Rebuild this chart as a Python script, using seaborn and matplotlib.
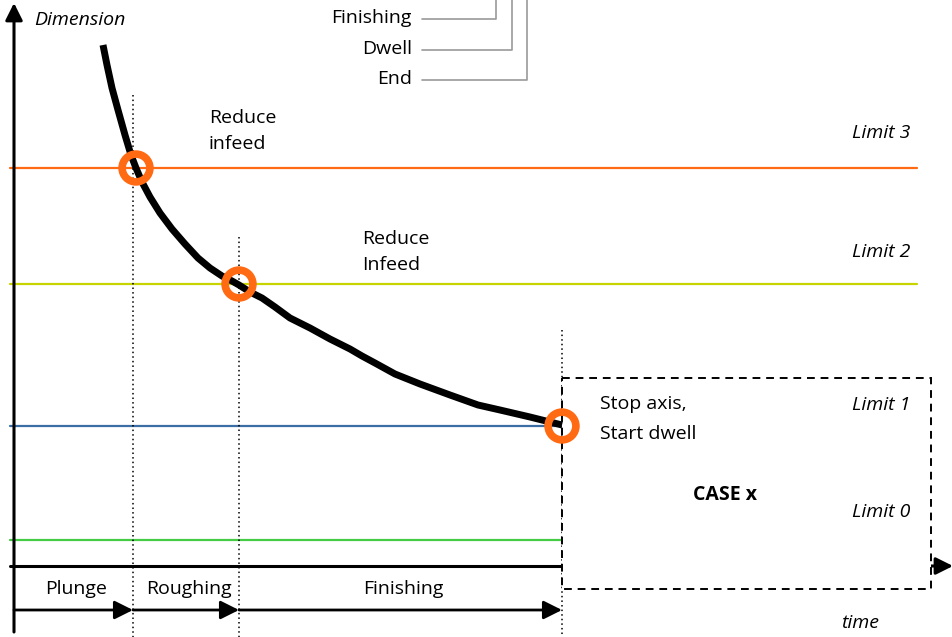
import matplotlib
matplotlib.use("Agg")
import matplotlib.pyplot as plt
import seaborn as sns
import pandas as pd
from matplotlib.patches import Rectangle

# Schematic drawn on a pixel-like grid (x right, y down)
curve_x = [103, 107, 112, 118, 125, 131, 136, 142, 150, 160, 172, 185, 198, 210,
           222, 232, 239, 250, 262, 275, 290, 310, 330, 350, 362, 375, 395, 420,
           450, 478, 500, 530, 562]
curve_y = [45, 65, 88, 110, 135, 155, 168, 182, 197, 213, 229, 244, 258, 268,
           276, 281, 285, 292, 298, 307, 318, 328, 339, 349, 356, 363, 374, 384,
           395, 405, 410, 417, 425]

limit_names = ['Limit 3', 'Limit 2', 'Limit 1', 'Limit 0']
limit_levels = [168, 284, 426, 540]
limit_ends = [917, 917, 562, 562]
limit_colors = ['#ff6a13', '#c8d400', '#3a6ea5', '#44cc44']
limit_label_y = [133, 252, 405, 512]

switch_x = [136, 239, 562]
switch_y = [168, 284, 426]

phase_names = ['Plunge', 'Roughing', 'Finishing']
phase_bounds = [14, 133, 239, 562]
divider_tops = [95, 237, 330]

top_labels = ['Roughing', 'Finishing', 'Dwell', 'End']
top_label_y = [-13, 18, 49, 79]
top_bend_x = [481, 496, 512, 527]

sns.set_theme(style="white")
plt.rcParams['font.family'] = ['Open Sans', 'DejaVu Sans']
plt.rcParams['text.color'] = 'black'

fig = plt.figure(figsize=(9.53, 6.37), dpi=100)
ax = fig.add_axes([0, 0, 1, 1])

fs = 14

# limit lines
for name, lvl, xe, c, ly in zip(limit_names, limit_levels, limit_ends, limit_colors, limit_label_y):
    ax.plot([10, xe], [lvl, lvl], color=c, lw=1.6, zorder=2)
    ax.text(910, ly, name, ha='right', va='center', fontsize=fs, style='italic', zorder=6)

# vertical dotted dividers
for xd, yt in zip(phase_bounds[1:], divider_tops):
    ax.plot([xd, xd], [yt, 637], color='black', lw=1.1, ls=(0, (1, 2)), zorder=3)

# axes
ax.plot([10, 562], [566, 566], color='black', lw=2.2, zorder=3)
ax.annotate('', xy=(14, 3), xytext=(14, 632),
            arrowprops=dict(arrowstyle='-|>', color='black', lw=2.2, mutation_scale=26,
                            shrinkA=0, shrinkB=0), zorder=4)
ax.annotate('', xy=(953, 566), xytext=(931, 566),
            arrowprops=dict(arrowstyle='-|>', color='black', lw=2.2, mutation_scale=26,
                            shrinkA=0, shrinkB=0), zorder=4)

# CASE x box
ax.add_patch(Rectangle((562, 378), 369, 211, facecolor='white', edgecolor='black',
                       lw=1.4, ls=(0, (4, 3)), zorder=4))
ax.text(725, 495, 'CASE x', ha='center', va='center', fontsize=fs, fontweight='bold', zorder=6)

# phase arrows
for name, x0, x1 in zip(phase_names, phase_bounds[:-1], phase_bounds[1:]):
    ax.annotate('', xy=(x1, 610), xytext=(x0, 610),
                arrowprops=dict(arrowstyle='-|>', color='black', lw=2, mutation_scale=28,
                                shrinkA=0, shrinkB=0), zorder=4)
    ax.text((x0 + x1) / 2 + 3, 589, name, ha='center', va='center', fontsize=fs, zorder=6)

# grinding curve
df = pd.DataFrame({'t': curve_x, 'dim': curve_y})
sns.lineplot(data=df, x='t', y='dim', sort=False, color='black', lw=5,
             solid_joinstyle='round', solid_capstyle='butt', ax=ax, zorder=5)

# switch points
sns.scatterplot(x=switch_x, y=switch_y, s=400, facecolor='none', edgecolor='#ff6a13',
                linewidth=5.5, ax=ax, zorder=7)

ax.set_xlim(0, 953)
ax.set_ylim(637, 0)
ax.axis('off')

# annotations
ax.text(34, 20, 'Dimension', ha='left', va='center', fontsize=fs, style='italic')
ax.text(860, 623, 'time', ha='center', va='center', fontsize=fs, style='italic')
ax.text(209, 131, 'Reduce\ninfeed', ha='left', va='center', fontsize=fs, linespacing=1.55)
ax.text(362, 252, 'Reduce\nInfeed', ha='left', va='center', fontsize=fs, linespacing=1.55)
ax.text(600, 419, 'Stop axis,\nStart dwell', ha='left', va='center', fontsize=fs,
        linespacing=1.8, zorder=6)

# top legend connectors
for lab, ly, bx in zip(top_labels, top_label_y, top_bend_x):
    ax.text(412, ly, lab, ha='right', va='center', fontsize=fs)
    ax.plot([422, bx, bx], [ly + 1, ly + 1, -5], color='#999999', lw=1.2)

fig.savefig('out.png', dpi=100)
